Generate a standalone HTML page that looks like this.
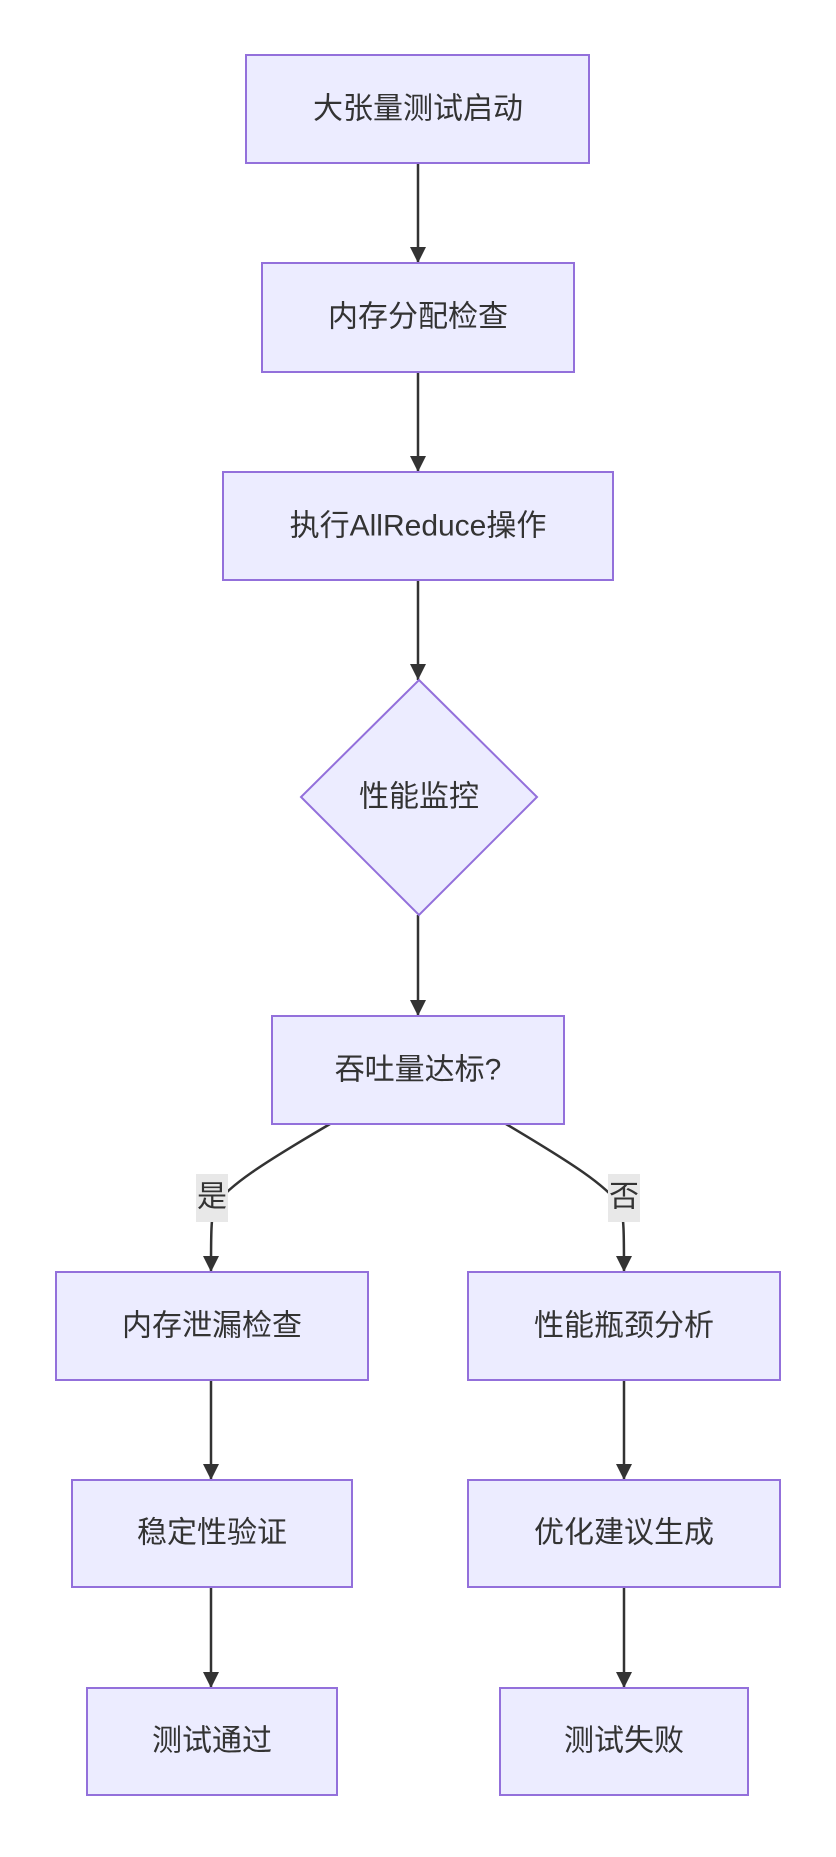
<!DOCTYPE html>
<html><head><meta charset="utf-8"><style>
html,body{margin:0;padding:0;background:#fff;}
svg text{font-family:"Liberation Sans","Noto Sans CJK SC",sans-serif;font-size:30px;fill:#333;text-anchor:middle;dominant-baseline:central;}
</style></head><body>
<svg width="836" height="1852" viewBox="0 0 836 1852" xmlns="http://www.w3.org/2000/svg">
<defs><marker id="a" viewBox="0 0 10 10" refX="10" refY="5" markerWidth="16" markerHeight="16" markerUnits="userSpaceOnUse" orient="auto"><path d="M0,0L10,5L0,10z" fill="#333"/></marker></defs>
<g fill="none" stroke="#333" stroke-width="2.5" marker-end="url(#a)">
<path d="M418,163V263"/>
<path d="M418,372V472"/>
<path d="M418,580V680"/>
<path d="M418,915V1016"/>
<path d="M330,1124C260,1165 230,1185 215,1205C211,1215 211,1235 211,1272"/>
<path d="M506,1124C575,1165 605,1185 620,1205C624,1215 624,1235 624,1272"/>
<path d="M211,1380V1480"/>
<path d="M211,1587V1688"/>
<path d="M624,1380V1480"/>
<path d="M624,1587V1688"/>
</g>
<g fill="#ECECFF" stroke="#9370DB" stroke-width="2">
<rect x="246" y="55" width="343" height="108"/>
<rect x="262" y="263" width="312" height="109"/>
<rect x="223" y="472" width="390" height="108"/>
<path d="M419,680L537,797L419,915L301,797Z"/>
<rect x="272" y="1016" width="292" height="108"/>
<rect x="56" y="1272" width="312" height="108"/>
<rect x="468" y="1272" width="312" height="108"/>
<rect x="72" y="1480" width="280" height="107"/>
<rect x="468" y="1480" width="312" height="107"/>
<rect x="87" y="1688" width="250" height="107"/>
<rect x="500" y="1688" width="248" height="107"/>
</g>
<rect x="196" y="1174" width="32" height="48" fill="#e8e8e8"/>
<rect x="608" y="1174" width="32" height="48" fill="#e8e8e8"/>
<text x="212" y="1197">是</text>
<text x="624" y="1197">否</text>
<text x="418" y="109">大张量测试启动</text>
<text x="418" y="317">内存分配检查</text>
<text x="418" y="526">执行AllReduce操作</text>
<text x="419" y="797">性能监控</text>
<text x="418" y="1070">吞吐量达标?</text>
<text x="212" y="1326">内存泄漏检查</text>
<text x="624" y="1326">性能瓶颈分析</text>
<text x="212" y="1533">稳定性验证</text>
<text x="624" y="1533">优化建议生成</text>
<text x="212" y="1741">测试通过</text>
<text x="624" y="1741">测试失败</text>
</svg>
</body></html>
